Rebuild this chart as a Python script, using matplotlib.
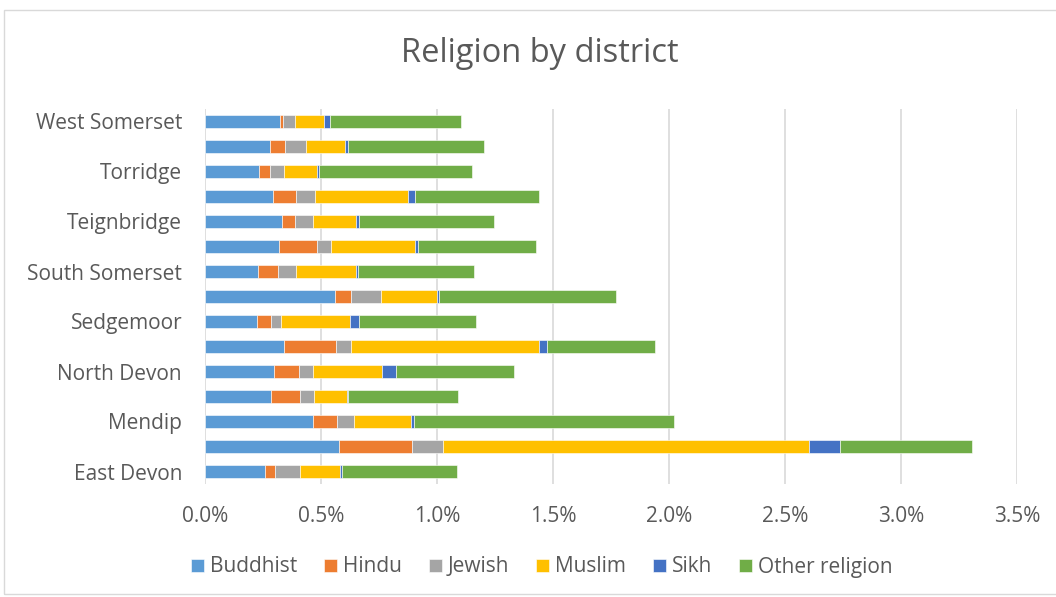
import matplotlib.pyplot as plt
import numpy as np
from matplotlib.patches import Rectangle
from matplotlib.ticker import PercentFormatter

# districts, bottom to top
districts = ["East Devon", "Exeter", "Mendip", "Mid Devon", "North Devon",
             "Plymouth", "Sedgemoor", "South Hams", "South Somerset",
             "Taunton Deane", "Teignbridge", "Torbay", "Torridge",
             "West Devon", "West Somerset"]

# share of population, in percent
buddhist = [0.260, 0.579, 0.464, 0.286, 0.299, 0.342, 0.223, 0.562, 0.230,
            0.319, 0.332, 0.293, 0.233, 0.280, 0.323]
hindu = [0.040, 0.315, 0.103, 0.124, 0.108, 0.221, 0.063, 0.069, 0.086,
         0.162, 0.057, 0.098, 0.047, 0.065, 0.013]
jewish = [0.108, 0.132, 0.075, 0.059, 0.059, 0.066, 0.040, 0.129, 0.078,
          0.063, 0.076, 0.083, 0.059, 0.089, 0.053]
muslim = [0.174, 1.578, 0.247, 0.144, 0.299, 0.810, 0.299, 0.240, 0.257,
          0.363, 0.187, 0.399, 0.144, 0.171, 0.124]
sikh = [0.009, 0.135, 0.013, 0.004, 0.060, 0.036, 0.040, 0.009, 0.010,
        0.012, 0.010, 0.032, 0.007, 0.010, 0.026]
other = [0.497, 0.569, 1.119, 0.474, 0.506, 0.466, 0.504, 0.763, 0.499,
         0.507, 0.585, 0.534, 0.659, 0.586, 0.565]

series = [("Buddhist", buddhist, "#5B9BD5"),
          ("Hindu", hindu, "#ED7D31"),
          ("Jewish", jewish, "#A5A5A5"),
          ("Muslim", muslim, "#FFC000"),
          ("Sikh", sikh, "#4472C4"),
          ("Other religion", other, "#70AD47")]

txt = "#595959"
plt.rcParams["font.family"] = ["Open Sans", "DejaVu Sans"]

fig = plt.figure(figsize=(10.56, 5.97), dpi=100)
ax = fig.add_axes([205 / 1056, 1 - 484 / 597, (1017 - 205) / 1056, (484 - 109) / 597])

y = np.arange(len(districts))
left = np.zeros(len(districts))
for name, vals, col in series:
    ax.barh(y, vals, left=left, height=0.5, color=col, label=name,
            edgecolor="white", linewidth=0.4, zorder=3)
    left += np.array(vals)

ax.set_xlim(0, 3.5)
ax.set_ylim(-0.5, len(districts) - 0.5)
ax.set_xticks(np.arange(0, 3.51, 0.5))
ax.xaxis.set_major_formatter(PercentFormatter(xmax=100, decimals=1))
ax.set_yticks(y[::2])
ax.set_yticklabels(districts[::2])
ax.tick_params(axis="both", length=0, colors=txt, labelsize=15)
ax.tick_params(axis="x", pad=16)
ax.tick_params(axis="y", pad=16.5)
ax.grid(axis="x", color="#d9d9d9", linewidth=1.2, zorder=0)
for s in ax.spines.values():
    s.set_visible(False)

fig.text(540 / 1056, 1 - 53 / 597, "Religion by district", ha="center",
         va="center", fontsize=23.5, color=txt)

fig.legend(loc="center", bbox_to_anchor=(542 / 1056, 1 - 567 / 597), ncol=6,
           frameon=False, fontsize=15, labelcolor=txt, handlelength=0.6,
           handleheight=0.6, handletextpad=0.3, columnspacing=1.3)

fig.patches.append(Rectangle((4 / 1056, 3 / 597), 1.1, 1 - 13 / 597,
                             transform=fig.transFigure, fill=False,
                             edgecolor="#d9d9d9", linewidth=1))

fig.savefig("out.png", dpi=100)
